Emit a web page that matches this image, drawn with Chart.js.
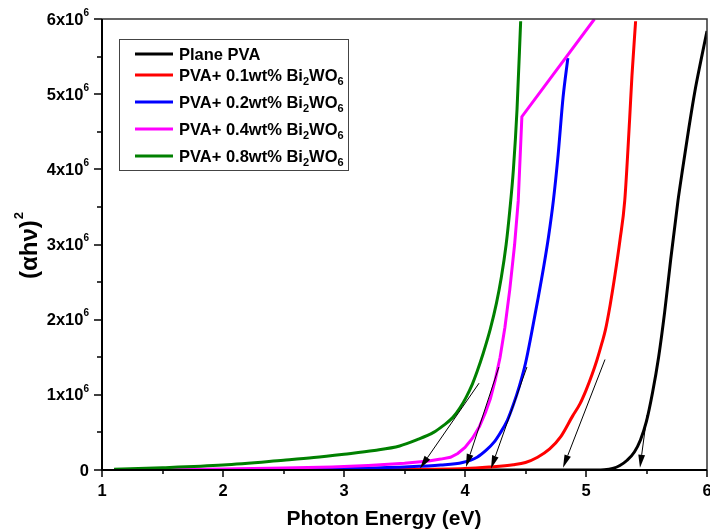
<!DOCTYPE html>
<html>
<head>
<meta charset="utf-8">
<script src="https://cdn.jsdelivr.net/npm/chart.js@4.4.1/dist/chart.umd.min.js"></script>
<style>
  html, body { margin: 0; padding: 0; background: #fff; }
  #wrap { width: 710px; height: 530px; }
</style>
</head>
<body>
<div id="wrap"><canvas id="tauc"></canvas></div>
<script>
// Photon energy (eV) and (alpha h nu)^2 in units of 10^6
const ePlain = [1.1, 3.0, 4.5, 5.0, 5.15, 5.22, 5.28, 5.34, 5.4, 5.45, 5.5, 5.55, 5.6, 5.65, 5.7, 5.76, 5.8, 5.85, 5.9, 5.95, 6.0];
const aPlain = [0, 0, 0, 0, 0.005, 0.02, 0.06, 0.13, 0.24, 0.4, 0.65, 1.03, 1.5, 2.1, 2.8, 3.58, 4.02, 4.55, 5.04, 5.45, 5.84];

const e01 = [1.1, 2.5, 3.5, 4.0, 4.2, 4.4, 4.5, 4.6, 4.7, 4.79, 4.89, 4.95, 5.0, 5.05, 5.09, 5.13, 5.16, 5.2, 5.24, 5.28, 5.32, 5.36, 5.38, 5.41];
const a01 = [0, 0.003, 0.008, 0.02, 0.04, 0.07, 0.1, 0.17, 0.28, 0.44, 0.72, 0.88, 1.06, 1.27, 1.46, 1.68, 1.86, 2.2, 2.6, 3.05, 3.58, 4.65, 5.25, 5.97];

const e02 = [1.1, 2.0, 2.5, 3.0, 3.5, 3.8, 3.98, 4.1, 4.18, 4.24, 4.29, 4.35, 4.4, 4.45, 4.5, 4.55, 4.6, 4.65, 4.69, 4.73, 4.77, 4.81, 4.85];
const a02 = [0, 0.005, 0.01, 0.02, 0.04, 0.065, 0.1, 0.17, 0.27, 0.37, 0.49, 0.66, 0.87, 1.12, 1.42, 1.82, 2.25, 2.7, 3.1, 3.58, 4.2, 4.95, 5.48];

const e04 = [1.1, 1.5, 2.0, 2.5, 2.9, 3.2, 3.5, 3.7, 3.8, 3.88, 3.94, 4.0, 4.06, 4.12, 4.17, 4.21, 4.25, 4.29, 4.33, 4.37, 4.41, 4.44, 4.47, 5.07];
const a04 = [0, 0.005, 0.012, 0.025, 0.04, 0.06, 0.09, 0.12, 0.145, 0.17, 0.22, 0.3, 0.42, 0.58, 0.77, 0.95, 1.2, 1.5, 1.9, 2.4, 3.0, 3.58, 4.7, 6.0];

const e08 = [1.1, 1.5, 2.0, 2.5, 2.75, 3.0, 3.25, 3.46, 3.6, 3.74, 3.82, 3.9, 3.96, 4.01, 4.06, 4.1, 4.15, 4.21, 4.26, 4.3, 4.34, 4.37, 4.4, 4.43, 4.46];
const a08 = [0.01, 0.03, 0.066, 0.13, 0.165, 0.21, 0.26, 0.32, 0.4, 0.5, 0.59, 0.7, 0.83, 0.97, 1.14, 1.31, 1.55, 1.88, 2.22, 2.56, 3.0, 3.45, 4.0, 4.8, 5.97];

const seriesLabels = ['Plane PVA', 'PVA+ 0.1wt% Bi_2WO_6', 'PVA+ 0.2wt% Bi_2WO_6', 'PVA+ 0.4wt% Bi_2WO_6', 'PVA+ 0.8wt% Bi_2WO_6'];
const seriesColors = ['#000000', '#ff0000', '#0000ff', '#ff00ff', '#008000'];

// tangent extrapolations: [x0, y0, x1, y1] from the curve down to the energy axis
const tangents = [
  [5.504, 0.73, 5.446, 0.03],
  [5.157, 1.47, 4.81, 0.03],
  [4.512, 1.37, 4.215, 0.02],
  [4.28, 1.37, 4.008, 0.04],
  [4.116, 1.155, 3.628, 0.02]
];

const xTicks = [1, 2, 3, 4, 5, 6];
const yTicks = [0, 1, 2, 3, 4, 5, 6];

const FONT = "'Liberation Sans', Arial, sans-serif";
Chart.defaults.font.family = FONT;
Chart.defaults.color = '#000';

const pts = (xs, ys) => xs.map((x, i) => ({ x: x, y: ys[i] }));

// draws "text" with _d parts lowered as subscripts
function drawSubText(ctx, str, x, y, size) {
  const parts = str.split(/(_\d)/).filter(s => s.length);
  for (const p of parts) {
    if (p[0] === '_') {
      ctx.font = 'bold ' + Math.round(size * 0.68) + 'px ' + FONT;
      ctx.fillText(p.slice(1), x, y + 6);
      x += ctx.measureText(p.slice(1)).width;
    } else {
      ctx.font = 'bold ' + size + 'px ' + FONT;
      ctx.fillText(p, x, y);
      x += ctx.measureText(p).width;
    }
  }
}

const decorations = {
  id: 'decorations',
  afterDatasetsDraw(chart) {
    const ctx = chart.ctx;
    const xs = chart.scales.x, ys = chart.scales.y;

    // tangent arrows
    ctx.save();
    ctx.strokeStyle = '#000';
    ctx.fillStyle = '#000';
    ctx.lineWidth = 1;
    tangents.forEach(t => {
      const x0 = xs.getPixelForValue(t[0]), y0 = ys.getPixelForValue(t[1]);
      const x1 = xs.getPixelForValue(t[2]), y1 = ys.getPixelForValue(t[3]);
      const ang = Math.atan2(y1 - y0, x1 - x0);
      const len = 13, half = 3.4;
      ctx.beginPath();
      ctx.moveTo(x0, y0);
      ctx.lineTo(x1 - Math.cos(ang) * len, y1 - Math.sin(ang) * len);
      ctx.stroke();
      ctx.beginPath();
      ctx.moveTo(x1, y1);
      ctx.lineTo(x1 - Math.cos(ang) * len - Math.sin(ang) * half, y1 - Math.sin(ang) * len + Math.cos(ang) * half);
      ctx.lineTo(x1 - Math.cos(ang) * len + Math.sin(ang) * half, y1 - Math.sin(ang) * len - Math.cos(ang) * half);
      ctx.closePath();
      ctx.fill();
    });
    ctx.restore();

    // legend box
    ctx.save();
    ctx.fillStyle = '#fff';
    ctx.fillRect(120, 40, 229, 131);
    ctx.strokeStyle = '#444';
    ctx.lineWidth = 1;
    ctx.strokeRect(119.5, 39.5, 229, 131);
    const rows = [54, 75, 102, 129, 156];
    chart.data.datasets.forEach((ds, i) => {
      ctx.strokeStyle = ds.borderColor;
      ctx.lineWidth = 3;
      ctx.beginPath();
      ctx.moveTo(135, rows[i]);
      ctx.lineTo(173, rows[i]);
      ctx.stroke();
      ctx.fillStyle = '#000';
      ctx.textBaseline = 'middle';
      ctx.textAlign = 'left';
      drawSubText(ctx, seriesLabels[i], 179, rows[i] + 1, 16.5);
    });
    ctx.restore();
  },
  afterDraw(chart) {
    const ctx = chart.ctx;
    const a = chart.chartArea;
    const xs = chart.scales.x, ys = chart.scales.y;
    ctx.save();

    // frame
    ctx.strokeStyle = '#333';
    ctx.lineWidth = 1.5;
    ctx.beginPath();
    ctx.moveTo(a.left, a.top);
    ctx.lineTo(a.right, a.top);
    ctx.lineTo(a.right, a.bottom);
    ctx.stroke();
    ctx.strokeStyle = '#000';
    ctx.lineWidth = 2;
    ctx.beginPath();
    ctx.moveTo(a.left, a.top);
    ctx.lineTo(a.left, a.bottom);
    ctx.lineTo(a.right, a.bottom);
    ctx.stroke();

    // major and minor tick marks, pointing outward
    ctx.lineWidth = 1.5;
    for (let v = 1; v <= 6.001; v += 0.5) {
      const px = Math.round(xs.getPixelForValue(v));
      const l = Number.isInteger(v) ? 7 : 4;
      ctx.beginPath();
      ctx.moveTo(px, a.bottom);
      ctx.lineTo(px, a.bottom + l);
      ctx.stroke();
    }
    for (let v = 0; v <= 6.001; v += 0.5) {
      const py = Math.round(ys.getPixelForValue(v));
      const l = Number.isInteger(v) ? 8 : 5;
      ctx.beginPath();
      ctx.moveTo(a.left, py);
      ctx.lineTo(a.left - l, py);
      ctx.stroke();
    }

    // y tick labels with 10^6 exponent
    ctx.fillStyle = '#000';
    ctx.textBaseline = 'middle';
    ctx.textAlign = 'left';
    yTicks.forEach(v => {
      const py = ys.getPixelForValue(v);
      const right = a.left - 13;
      if (v === 0) {
        ctx.font = 'bold 16.5px ' + FONT;
        const w = ctx.measureText('0').width;
        ctx.fillText('0', right - w, py + 1);
        return;
      }
      const base = v + 'x10';
      ctx.font = 'bold 10px ' + FONT;
      const ws = ctx.measureText('6').width;
      ctx.font = 'bold 16.5px ' + FONT;
      const wb = ctx.measureText(base).width;
      ctx.fillText(base, right - ws - wb, py + 1);
      ctx.font = 'bold 10px ' + FONT;
      ctx.fillText('6', right - ws, py - 6);
    });

    // x axis title
    ctx.font = 'bold 21px ' + FONT;
    ctx.textAlign = 'center';
    ctx.fillText('Photon Energy (eV)', 384, 519);

    // y axis title (alpha h nu)^2
    ctx.textAlign = 'left';
    ctx.translate(30, 246);
    ctx.rotate(-Math.PI / 2);
    ctx.font = 'bold 24px ' + FONT;
    const wt = ctx.measureText('(\u03b1h\u03bd)').width;
    ctx.font = 'bold 13px ' + FONT;
    const w2 = ctx.measureText('2').width;
    const sx = -(wt + w2) / 2;
    ctx.font = 'bold 24px ' + FONT;
    ctx.fillText('(\u03b1h\u03bd)', sx, 0);
    ctx.font = 'bold 13px ' + FONT;
    ctx.fillText('2', sx + wt + 1, -11);
    ctx.restore();
  }
};

const chartData = {
  datasets: [
    { data: pts(ePlain, aPlain), order: 5 },
    { data: pts(e01, a01), order: 4 },
    { data: pts(e02, a02), order: 3 },
    { data: pts(e04, a04), order: 2, cubicInterpolationMode: 'default', tension: 0 },
    { data: pts(e08, a08), order: 1 }
  ].map((ds, i) => Object.assign({
    label: seriesLabels[i],
    borderColor: seriesColors[i],
    backgroundColor: seriesColors[i],
    borderWidth: 3,
    pointRadius: 0,
    fill: false,
    cubicInterpolationMode: 'monotone'
  }, ds))
};

new Chart(document.getElementById('tauc'), {
  type: 'line',
  data: chartData,
  options: {
    responsive: true,
    maintainAspectRatio: false,
    animation: false,
    layout: { padding: { top: 19, right: 3, bottom: 0, left: 0 } },
    plugins: { legend: { display: false }, tooltip: { enabled: false } },
    scales: {
      x: {
        type: 'linear',
        min: 1,
        max: 6,
        afterFit: s => { s.height = 60; s.paddingLeft = 0; s.paddingRight = 0; },
        afterBuildTicks: s => { s.ticks = xTicks.map(v => ({ value: v })); },
        ticks: { padding: 12, font: { size: 16.5, weight: 'bold' }, color: '#000', maxRotation: 0 },
        grid: { display: false, drawTicks: false },
        border: { display: false }
      },
      y: {
        type: 'linear',
        min: 0,
        max: 6,
        afterFit: s => { s.width = 102; s.paddingTop = 0; s.paddingBottom = 0; },
        ticks: { display: false },
        grid: { display: false, drawTicks: false },
        border: { display: false }
      }
    }
  },
  plugins: [decorations]
});
</script>
</body>
</html>
